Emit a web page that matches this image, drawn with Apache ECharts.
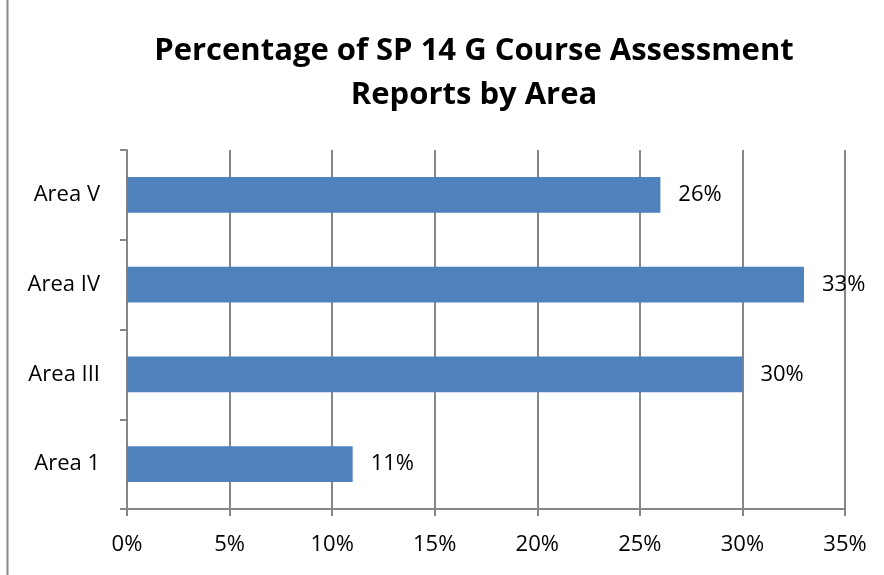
<!DOCTYPE html>
<html><head><meta charset="utf-8">
<script src="https://cdn.jsdelivr.net/npm/echarts@6/dist/echarts.min.js"></script>
<style>html,body{margin:0;padding:0;background:#fff}#c{width:884px;height:575px}</style>
</head><body><div id="c"></div>
<script>
const categories = ['Area 1', 'Area III', 'Area IV', 'Area V'];
const values = [11, 30, 33, 26];
const xTicks = [0, 5, 10, 15, 20, 25, 30, 35];
const titleText = 'Percentage of SP 14 G Course Assessment\nReports by Area';

const FONT = 'Open Sans';
const chart = echarts.init(document.getElementById('c'), null, {renderer: 'canvas'});
chart.setOption({
  animation: false,
  backgroundColor: '#fff',
  title: {
    text: titleText,
    left: 469, top: 24, textAlign: 'center',
    textStyle: {fontFamily: FONT, fontWeight: 'bold', fontSize: 31, lineHeight: 44, color: '#000'}
  },
  graphic: [{type: 'line', shape: {x1: 7.5, y1: 0, x2: 7.5, y2: 575}, style: {stroke: '#888', lineWidth: 2}}],
  grid: {left: 127, right: 39, top: 150, bottom: 66, containLabel: false},
  xAxis: {
    type: 'value', min: xTicks[0], max: xTicks[xTicks.length - 1], interval: 5,
    axisLine: {show: true, lineStyle: {color: '#868686', width: 2}},
    axisTick: {show: true, length: 7, lineStyle: {color: '#868686', width: 2}},
    splitLine: {show: true, lineStyle: {color: '#868686', width: 2}},
    axisLabel: {formatter: v => v + '%', fontFamily: FONT, fontSize: 22, color: '#000', margin: 25}
  },
  yAxis: {
    type: 'category', data: categories,
    axisLine: {show: true, lineStyle: {color: '#868686', width: 2}},
    axisTick: {show: true, length: 7, lineStyle: {color: '#868686', width: 2}},
    axisLabel: {fontFamily: FONT, fontSize: 22, color: '#000', margin: 27}
  },
  series: [{
    type: 'bar', data: values, barCategoryGap: '60%',
    itemStyle: {color: '#4F81BD'},
    label: {show: true, position: 'right', distance: 18, formatter: p => p.value + '%', fontFamily: FONT, fontSize: 22, color: '#000'}
  }]
});
</script></body></html>
